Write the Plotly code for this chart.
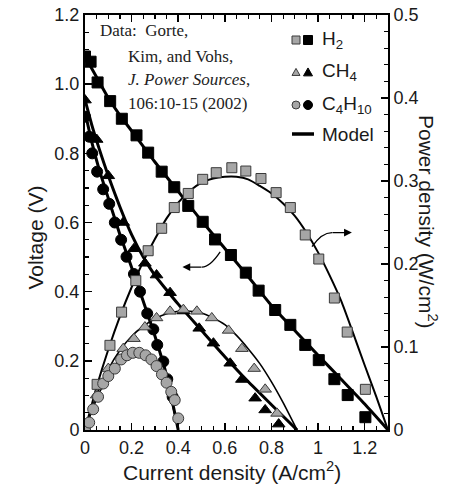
import plotly.graph_objects as go

# ---------------- data ----------------
# H2 : voltage (black squares) and power density (gray squares)
h2_v_x = [0, 0.024, 0.054, 0.108, 0.158, 0.221, 0.271, 0.329, 0.383, 0.443, 0.505,
          0.558, 0.626, 0.690, 0.745, 0.816, 0.881, 0.945, 1.003, 1.070, 1.127, 1.203]
h2_v = [1.080, 1.065, 1.005, 0.951, 0.900, 0.852, 0.802, 0.747, 0.702, 0.648, 0.602,
        0.551, 0.506, 0.455, 0.403, 0.347, 0.304, 0.246, 0.202, 0.147, 0.101, 0.037]
h2_p_x = [0, 0.052, 0.107, 0.157, 0.218, 0.271, 0.329, 0.383, 0.443, 0.505, 0.563,
          0.630, 0.690, 0.755, 0.820, 0.881, 0.945, 1.003, 1.070, 1.125, 1.203]
h2_p = [0, 0.055, 0.102, 0.142, 0.180, 0.216, 0.243, 0.268, 0.285, 0.302, 0.310,
        0.316, 0.312, 0.303, 0.286, 0.268, 0.235, 0.206, 0.159, 0.118, 0.049]

# CH4 : voltage (black triangles) and power density (gray triangles)
ch4_v_x = [0, 0.05, 0.10, 0.164, 0.21, 0.257, 0.307, 0.365, 0.422, 0.49, 0.551,
           0.623, 0.673, 0.73, 0.773, 0.831]
ch4_v = [0.954, 0.84, 0.735, 0.60, 0.524, 0.482, 0.448, 0.397, 0.344, 0.294, 0.251,
         0.193, 0.146, 0.092, 0.058, 0.017]
ch4_p_x = [0, 0.05, 0.10, 0.164, 0.21, 0.257, 0.307, 0.365, 0.422, 0.48, 0.544,
           0.616, 0.673, 0.726, 0.773, 0.824]
ch4_p = [0, 0.042, 0.074, 0.098, 0.110, 0.124, 0.135, 0.143, 0.145, 0.143, 0.135,
         0.120, 0.098, 0.074, 0.049, 0.020]

# C4H10 : voltage (black circles) and power density (gray circles)
c4_v_x = [0, 0.018, 0.031, 0.052, 0.078, 0.104, 0.128, 0.155, 0.178, 0.21, 0.236,
          0.267, 0.293, 0.31, 0.336, 0.353, 0.376]
c4_v = [0.906, 0.848, 0.80, 0.747, 0.696, 0.654, 0.60, 0.55, 0.501, 0.451, 0.40,
        0.337, 0.291, 0.246, 0.198, 0.147, 0.096]
c4_p_x = [0, 0.018, 0.035, 0.056, 0.078, 0.10, 0.128, 0.155, 0.18, 0.205, 0.233,
          0.26, 0.285, 0.307, 0.33, 0.35, 0.37, 0.385, 0.40]
c4_p = [0, 0.009, 0.025, 0.040, 0.056, 0.065, 0.074, 0.085, 0.090, 0.093, 0.093,
        0.090, 0.085, 0.077, 0.067, 0.057, 0.046, 0.036, 0.014]

# Model curves
m_h2_v_x = [0, 0.05, 0.1, 0.15, 0.2, 0.3, 0.4, 0.5, 0.6, 0.7, 0.8, 0.9, 1.0, 1.1, 1.2, 1.3]
m_h2_v = [1.08, 1.02, 0.96, 0.91, 0.865, 0.775, 0.69, 0.605, 0.525, 0.444, 0.36, 0.288,
          0.216, 0.146, 0.075, 0.0]
m_h2_p_x = [0, 0.05, 0.1, 0.15, 0.2, 0.25, 0.3, 0.35, 0.4, 0.45, 0.5, 0.55, 0.6, 0.65,
            0.7, 0.75, 0.8, 0.85, 0.9, 0.95, 1.0, 1.05, 1.1, 1.15, 1.2, 1.25, 1.3]
m_h2_p = [0, 0.052, 0.097, 0.137, 0.172, 0.203, 0.230, 0.255, 0.274, 0.288, 0.298, 0.303,
          0.305, 0.305, 0.302, 0.294, 0.285, 0.273, 0.258, 0.238, 0.214, 0.186, 0.155,
          0.117, 0.078, 0.040, 0.0]

m_ch4_v_x = [0, 0.03, 0.06, 0.1, 0.15, 0.2, 0.25, 0.3, 0.35, 0.4, 0.5, 0.6, 0.7, 0.8, 0.91]
m_ch4_v = [0.955, 0.88, 0.815, 0.735, 0.645, 0.565, 0.50, 0.447, 0.405, 0.364, 0.288,
           0.212, 0.14, 0.073, 0.0]
m_ch4_p_x = [0, 0.05, 0.1, 0.15, 0.2, 0.25, 0.3, 0.35, 0.4, 0.45, 0.5, 0.55, 0.6, 0.65,
             0.7, 0.75, 0.8, 0.85, 0.91]
m_ch4_p = [0, 0.042, 0.073, 0.096, 0.113, 0.125, 0.134, 0.140, 0.143, 0.143, 0.141, 0.135,
           0.127, 0.114, 0.098, 0.080, 0.058, 0.033, 0.0]

m_c4_v_x = [0, 0.03, 0.06, 0.1, 0.15, 0.2, 0.25, 0.3, 0.35, 0.4]
m_c4_v = [0.92, 0.83, 0.755, 0.67, 0.565, 0.47, 0.372, 0.272, 0.158, 0.0]
m_c4_p_x = [0, 0.05, 0.1, 0.15, 0.2, 0.25, 0.3, 0.35, 0.4]
m_c4_p = [0, 0.037, 0.066, 0.085, 0.094, 0.093, 0.081, 0.055, 0.0]

# axis ticks
x_ticks = [0, 0.2, 0.4, 0.6, 0.8, 1.0, 1.2]
x_ticktext = ["0", "0.2", "0.4", "0.6", "0.8", "1", "1.2"]
v_ticks = [0, 0.2, 0.4, 0.6, 0.8, 1.0, 1.2]
v_ticktext = ["0", "0.2", "0.4", "0.6", "0.8", "1.0", "1.2"]
p_ticks = [0, 0.1, 0.2, 0.3, 0.4, 0.5]
p_ticktext = ["0", "0.1", "0.2", "0.3", "0.4", "0.5"]

GRAY = "#a6a6a6"
EDGE = "#3a3a3a"
FONT = "Liberation Sans"
TXT = "#1a1a1a"

fig = go.Figure()

# model lines
for xs, ys, w, ax in [
    (m_h2_v_x, m_h2_v, 3, "y"), (m_ch4_v_x, m_ch4_v, 3, "y"), (m_c4_v_x, m_c4_v, 3, "y"),
    (m_h2_p_x, m_h2_p, 2, "y2"), (m_ch4_p_x, m_ch4_p, 1.6, "y2"), (m_c4_p_x, m_c4_p, 1.4, "y2"),
]:
    fig.add_trace(go.Scatter(x=xs, y=ys, mode="lines", yaxis=ax, showlegend=False,
                             hoverinfo="skip",
                             line=dict(color="black", width=w, shape="spline", smoothing=0.6)))

def edge(fill):
    return EDGE if fill != "black" else "black"

def pts(xs, ys, sym, fill, ax, size):
    fig.add_trace(go.Scatter(
        x=xs, y=ys, mode="markers", yaxis=ax, showlegend=False,
        marker=dict(symbol=sym, size=size, color=fill, line=dict(color=edge(fill), width=1))))

pts(h2_p_x, h2_p, "square", GRAY, "y2", 10)
pts(ch4_p_x, ch4_p, "triangle-up", GRAY, "y2", 11)
pts(c4_p_x, c4_p, "circle", GRAY, "y2", 11)
pts(h2_v_x, h2_v, "square", "black", "y", 11)
pts(ch4_v_x, ch4_v, "triangle-up", "black", "y", 11)
pts(c4_v_x, c4_v, "circle", "black", "y", 11)

# figure fills the whole 463x486 window (body margin removed by the post script)
W, H = 463, 486
# plot area in window pixels
L, R, T, B = 85, 388, 15, 430
def px(x):
    return (x - L) / (R - L)
def py(y):
    return (B - y) / (B - T)

shapes = []
annotations = []

# legend (drawn manually, two symbols per row like the original)
def sq(cx, cy, s, fill):
    shapes.append(dict(type="rect", xref="paper", yref="paper",
                       x0=px(cx - s / 2), x1=px(cx + s / 2), y0=py(cy + s / 2), y1=py(cy - s / 2),
                       fillcolor=fill, line=dict(color=edge(fill), width=1)))

def tri(cx, cy, s, fill):
    path = "M {} {} L {} {} L {} {} Z".format(
        px(cx - s / 2), py(cy + s * 0.43), px(cx + s / 2), py(cy + s * 0.43), px(cx), py(cy - s * 0.45))
    shapes.append(dict(type="path", xref="paper", yref="paper", path=path,
                       fillcolor=fill, line=dict(color=edge(fill), width=1)))

def circ(cx, cy, s, fill):
    shapes.append(dict(type="circle", xref="paper", yref="paper",
                       x0=px(cx - s / 2), x1=px(cx + s / 2), y0=py(cy + s / 2), y1=py(cy - s / 2),
                       fillcolor=fill, line=dict(color=edge(fill), width=1)))

sq(296, 40, 8, GRAY); sq(308, 40, 9, "black")
tri(296, 72, 8, GRAY); tri(308, 72, 9, "black")
circ(296, 105, 8, GRAY); circ(308, 105, 9, "black")
shapes.append(dict(type="line", xref="paper", yref="paper", x0=px(292), x1=px(314),
                   y0=py(134), y1=py(134), line=dict(color="black", width=3.5)))

leg_items = [("H<sub>2</sub>", 40), ("CH<sub>4</sub>", 72), ("C<sub>4</sub>H<sub>10</sub>", 105), ("Model", 134)]
for txt, yy in leg_items:
    annotations.append(dict(xref="paper", yref="paper", x=px(320), y=py(yy), text=txt,
                            showarrow=False, xanchor="left", yanchor="middle",
                            font=dict(family=FONT, size=19, color=TXT)))

# data source text
src = [("Data:&nbsp;&nbsp;Gorte,", 98, 31), ("Kim, and Vohs,", 126, 56),
       ("<i>J. Power Sources</i>,", 126, 80), ("106:10-15 (2002)", 126, 103)]
for txt, xx, yy in src:
    annotations.append(dict(xref="paper", yref="paper", x=px(xx), y=py(yy), text=txt,
                            showarrow=False, xanchor="left", yanchor="middle",
                            font=dict(family="Liberation Serif", size=17, color="#222")))

# arrows pointing to the respective axes
shapes.append(dict(type="path", xref="x", yref="y", path="M 0.58 0.515 Q 0.535 0.47 0.50 0.471",
                   line=dict(color="black", width=1.3)))
annotations.append(dict(xref="x", yref="y", axref="x", ayref="y", x=0.418, y=0.471,
                        ax=0.505, ay=0.471, text="", showarrow=True, arrowhead=2,
                        arrowsize=1.2, arrowwidth=1.3, arrowcolor="black"))
shapes.append(dict(type="path", xref="x", yref="y", path="M 0.974 0.530 Q 1.015 0.571 1.06 0.571",
                   line=dict(color="black", width=1.3)))
annotations.append(dict(xref="x", yref="y", axref="x", ayref="y", x=1.145, y=0.571,
                        ax=1.055, ay=0.571, text="", showarrow=True, arrowhead=2,
                        arrowsize=1.2, arrowwidth=1.3, arrowcolor="black"))

# axis titles
annotations.append(dict(xref="paper", yref="paper", x=px(232), y=py(471),
                        text="Current density (A/cm<sup>2</sup>)", showarrow=False,
                        xanchor="center", yanchor="middle",
                        font=dict(family=FONT, size=21, color=TXT)))
annotations.append(dict(xref="paper", yref="paper", x=px(22), y=py(238),
                        text="Voltage (V)", showarrow=False, textangle=-90,
                        font=dict(family=FONT, size=21, color=TXT)))
annotations.append(dict(xref="paper", yref="paper", x=px(443), y=py(222),
                        text="Power density (W/cm<sup>2</sup>)", showarrow=False, textangle=90,
                        font=dict(family=FONT, size=21, color=TXT)))

tickfont = dict(family=FONT, size=18, color=TXT)
common = dict(showgrid=False, zeroline=False, showline=True, linecolor="black", linewidth=2,
              ticks="inside", ticklen=7, tickwidth=1.5, tickcolor="black", tickfont=tickfont,
              automargin=False, ticklabeloverflow="allow")
fig.update_layout(
    width=W, height=H,
    margin=dict(l=L, r=W - R, t=T, b=H - B, autoexpand=False),
    paper_bgcolor="white", plot_bgcolor="white",
    showlegend=False, hovermode=False,
    shapes=shapes, annotations=annotations,
    xaxis=dict(range=[0, 1.3], tickvals=x_ticks, ticktext=x_ticktext, mirror="ticks",
               minor=dict(dtick=0.05, tick0=0, ticks="inside", ticklen=4, tickwidth=1.2,
                          tickcolor="black", showgrid=False), **common),
    yaxis=dict(range=[0, 1.2], tickvals=v_ticks, ticktext=v_ticktext,
               minor=dict(dtick=0.05, tick0=0, ticks="inside", ticklen=4, tickwidth=1.2,
                          tickcolor="black", showgrid=False), **common),
    yaxis2=dict(range=[0, 0.5], overlaying="y", side="right", tickvals=p_ticks,
                ticktext=p_ticktext,
                minor=dict(dtick=0.02, tick0=0, ticks="inside", ticklen=4, tickwidth=1.2,
                           tickcolor="black", showgrid=False), **common),
)

fig.write_html("out.html", config={"displayModeBar": False, "staticPlot": True},
               post_script="document.body.style.margin='0px';document.body.style.overflow='hidden';")
